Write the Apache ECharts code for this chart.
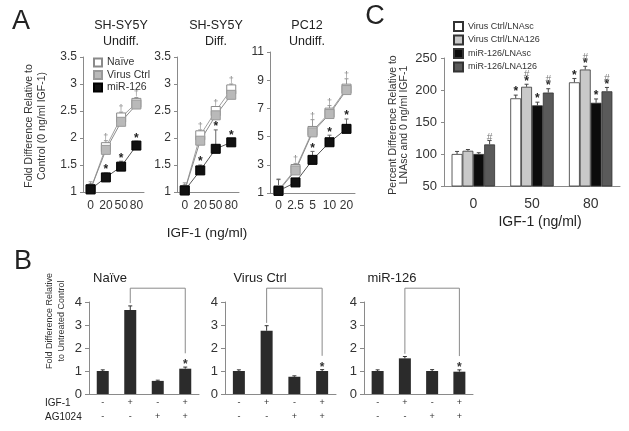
<!DOCTYPE html>
<html><head><meta charset="utf-8">
<script src="https://cdn.jsdelivr.net/npm/echarts@6/dist/echarts.min.js"></script>
<style>html,body{margin:0;padding:0;background:#fff}#c{width:629px;height:431px}</style>
</head><body><div id="c"></div>
<script>
const FONT = 'Arial, "Liberation Sans", Helvetica, sans-serif';

// ---------- Panel A data ----------
const aSeriesNames = ['Naïve', 'Virus Ctrl', 'miR-126'];
const a1Cats = ['0', '20', '50', '80'];
const a1Naive = [1.05, 1.83, 2.38, 2.65];
const a1Virus = [1.05, 1.78, 2.30, 2.62];
const a1Mir   = [1.05, 1.27, 1.47, 1.86];
const a1NaiveErr = [0.14, 0.12, 0.10, 0.10];
const a1MirErr   = [0.10, 0.08, 0.10, 0.08];
const a1NaiveMark = ['', '†', '†', '†'];
const a1MirMark   = ['', '*', '*', '*'];

const a2Cats = ['0', '20', '50', '80'];
const a2Naive = [1.03, 2.05, 2.50, 2.90];
const a2Virus = [1.03, 1.95, 2.42, 2.80];
const a2Mir   = [1.03, 1.40, 1.80, 1.92];
const a2NaiveErr = [0.14, 0.10, 0.08, 0.10];
const a2MirErr   = [0.10, 0.10, 0.35, 0.06];
const a2NaiveMark = ['', '†', '†', '†'];
const a2MirMark   = ['', '*', '*', '*'];

const a3Cats = ['0', '2.5', '5', '10', '20'];
const a3Naive = [1.20, 2.70, 5.40, 6.70, 8.40];
const a3Virus = [1.15, 2.60, 5.30, 6.60, 8.30];
const a3Mir   = [1.15, 1.75, 3.35, 4.60, 5.55];
const a3NaiveErr = [0.8, 0.4, 0.8, 0.5, 0.7];
const a3MirErr   = [0.8, 0.2, 0.6, 0.5, 0.7];
const a3NaiveMark = ['', '†', '†', '†', '†'];
const a3MirMark   = ['', '', '*', '*', '*'];
const a3Ticks = [1, 3, 5, 7, 9, 11];

// ---------- Panel C data ----------
const cCats = ['0', '50', '80'];
const cNames = ['Virus Ctrl/LNAsc', 'Virus Ctrl/LNA126', 'miR-126/LNAsc', 'miR-126/LNA126'];
const cVals = [
  [100, 187, 212],
  [105, 205, 232],
  [100, 176, 180],
  [115, 196, 198]
];
const cErrs = [
  [4, 5, 6],
  [2, 4, 5],
  [2, 5, 6],
  [6, 6, 6]
];
const cMarks = [
  ['', '*', '*'],
  ['', '#*', '#*'],
  ['', '*', '*'],
  ['#', '#*', '#*']
];

// ---------- Panel B data ----------
const bTitles = ['Naïve', 'Virus Ctrl', 'miR-126'];
const bCats = ['1', '2', '3', '4'];
const bIgf = ['-', '+', '-', '+'];
const bAg  = ['-', '-', '+', '+'];
const bVals = [
  [1.00, 3.65, 0.57, 1.10],
  [1.00, 2.75, 0.75, 1.00],
  [1.00, 1.55, 1.00, 0.97]
];
const bErrs = [
  [0.05, 0.18, 0.03, 0.07],
  [0.05, 0.22, 0.04, 0.06],
  [0.05, 0.08, 0.06, 0.08]
];
const bMarks = ['', '', '', '*'];
const bBracketTop = 4.6;

// ---------- helpers ----------
function errSeries(gi, vals, errs, marks, o) {
  return {
    type: 'custom', xAxisIndex: gi, yAxisIndex: gi, silent: true, z: o.z || 2,
    data: vals.map((v, i) => [i, v, errs[i]]),
    renderItem: function (params, api) {
      const i = params.dataIndex;
      const band = api.size([1, 0])[0];
      const off = (o.offset || 0) * band;
      const p0 = api.coord([api.value(0), api.value(1)]);
      const p1 = api.coord([api.value(0), api.value(1) + api.value(2)]);
      const x = p0[0] + off;
      const children = [
        { type: 'line', shape: { x1: x, y1: p0[1], x2: x, y2: p1[1] }, style: { stroke: o.color, lineWidth: 1 } },
        { type: 'line', shape: { x1: x - o.cap, y1: p1[1], x2: x + o.cap, y2: p1[1] }, style: { stroke: o.color, lineWidth: 1 } }
      ];
      const m = marks ? (marks[i] || '') : '';
      let y = p1[1] + (o.markShift || 0);
      for (let k = m.length - 1; k >= 0; k--) {
        const ch = m[k];
        const isHash = ch === '#';
        const size = isHash ? o.markSize * 0.85 : o.markSize;
        children.push({
          type: 'text', x: x, y: y,
          style: {
            text: ch, fontSize: size, fontFamily: FONT,
            fontWeight: ch === '*' ? 'bold' : 'normal',
            fill: isHash ? '#777' : (ch === '†' ? '#888' : o.markColor),
            textAlign: 'center', align: 'center',
            textVerticalAlign: 'bottom', verticalAlign: 'bottom'
          }
        });
        y -= size * (ch === '*' ? 0.55 : 0.8);
      }
      return { type: 'group', children: children };
    }
  };
}

function lineSeries(gi, name, data, line, fill, border) {
  return {
    type: 'line', name: name, xAxisIndex: gi, yAxisIndex: gi, data: data, silent: true,
    symbol: 'rect', symbolSize: 9, z: 4,
    lineStyle: { color: line, width: 1 },
    itemStyle: { color: fill, borderColor: border, borderWidth: 1 }
  };
}

function bracketSeries(gi, vals, errs) {
  return {
    type: 'custom', xAxisIndex: gi, yAxisIndex: gi, silent: true, z: 2,
    data: [[1, vals[1]]],
    renderItem: function (params, api) {
      const l = api.coord([1, vals[1] + errs[1] + 0.12]);
      const r = api.coord([3, vals[3] + errs[3] + 0.6]);
      const t = api.coord([1, bBracketTop])[1];
      return {
        type: 'polyline',
        shape: { points: [[l[0], l[1]], [l[0], t], [r[0], t], [r[0], r[1]]] },
        style: { stroke: '#8a8a8a', lineWidth: 1, fill: null }
      };
    }
  };
}

const axCol = '#8a8a8a';
function catX(gi, data, fs, margin, extra) {
  return Object.assign({
    type: 'category', gridIndex: gi, data: data, boundaryGap: true,
    axisLine: { lineStyle: { color: axCol } },
    axisTick: { length: 3, lineStyle: { color: axCol } },
    axisLabel: { fontSize: fs, color: '#333', margin: margin, fontFamily: FONT, interval: 0 },
    splitLine: { show: false }
  }, extra || {});
}
function valY(gi, min, max, interval, fs, margin, extra) {
  const ax = {
    type: 'value', gridIndex: gi, min: min, max: max,
    axisLine: { show: true, lineStyle: { color: axCol } },
    axisTick: { show: true, length: 3, lineStyle: { color: axCol } },
    axisLabel: { fontSize: fs, color: '#333', margin: margin, fontFamily: FONT },
    splitLine: { show: false }
  };
  if (interval) ax.interval = interval;
  return Object.assign(ax, extra || {});
}

function txt(x, y, text, size, o) {
  o = o || {};
  return {
    type: 'text', x: x, y: y, rotation: o.rot || 0, silent: true,
    style: {
      text: text, fontSize: size, fontFamily: FONT, fill: o.fill || '#222',
      textAlign: o.align || 'center', align: o.align || 'center',
      textVerticalAlign: 'middle', verticalAlign: 'middle',
      lineHeight: o.lh || Math.round(size * 1.2)
    }
  };
}

const grids = [
  { left: 83, top: 57, width: 61, height: 135 },   // A1
  { left: 177, top: 57, width: 62, height: 135 },  // A2
  { left: 270, top: 52, width: 85, height: 141 },  // A3
  { left: 444, top: 58, width: 176, height: 128 }, // C
  { left: 89, top: 302, width: 110, height: 92 },  // B1
  { left: 225, top: 302, width: 111, height: 92 }, // B2
  { left: 364, top: 302, width: 109, height: 92 }  // B3
];

const xAxes = [
  catX(0, a1Cats, 12, 8),
  catX(1, a2Cats, 12, 8),
  catX(2, a3Cats, 12, 7),
  catX(3, cCats, 14, 11, { axisTick: { length: 4, lineStyle: { color: axCol } } })
];
const yAxes = [
  valY(0, 1, 3.5, 0.5, 12, 6),
  valY(1, 1, 3.5, 0.5, 12, 6),
  valY(2, 1, 11, null, 12, 6, {
    axisLabel: { fontSize: 12, color: '#333', margin: 6, fontFamily: FONT, customValues: a3Ticks },
    axisTick: { show: true, length: 3, lineStyle: { color: axCol }, customValues: a3Ticks }
  }),
  valY(3, 50, 250, 50, 13, 7)
];
for (let k = 0; k < 3; k++) {
  xAxes.push(catX(4 + k, bCats, 9, 2, {
    axisTick: { length: 27, lineStyle: { color: axCol } },
    axisLabel: {
      fontSize: 9, color: '#333', margin: 2, fontFamily: FONT, interval: 0, lineHeight: 14,
      formatter: function (v, i) { return bIgf[i] + '\n' + bAg[i]; }
    }
  }));
  yAxes.push(valY(4 + k, 0, 4, 1, 13, 7, {
    axisTick: { show: true, length: 4, lineStyle: { color: axCol } }
  }));
}

const series = [];
// Panel A
const aSets = [
  [a1Naive, a1Virus, a1Mir, a1NaiveErr, a1MirErr, a1NaiveMark, a1MirMark],
  [a2Naive, a2Virus, a2Mir, a2NaiveErr, a2MirErr, a2NaiveMark, a2MirMark],
  [a3Naive, a3Virus, a3Mir, a3NaiveErr, a3MirErr, a3NaiveMark, a3MirMark]
];
aSets.forEach(function (s, gi) {
  series.push(errSeries(gi, s[0], s[3], s[5], { color: '#999', cap: 2, markSize: 9, markColor: '#777', z: 1, markShift: 1 }));
  series.push(errSeries(gi, s[2], s[4], s[6], { color: '#666', cap: 2, markSize: 12, markColor: '#222', z: 1, markShift: 3 }));
  series.push(lineSeries(gi, aSeriesNames[0], s[0], '#a0a0a0', '#ffffff', '#8a8a8a'));
  series.push(lineSeries(gi, aSeriesNames[1], s[1], '#8c8c8c', '#b9b9b9', '#999999'));
  series.push(lineSeries(gi, aSeriesNames[2], s[2], '#555555', '#111111', '#000000'));
});
// Panel C
const cColors = ['#ffffff', '#c9c9c9', '#0c0c0c', '#5a5a5a'];
const cBarFrac = (1 - 0.26) / 4;
cNames.forEach(function (n, i) {
  series.push({
    type: 'bar', name: n, xAxisIndex: 3, yAxisIndex: 3, data: cVals[i], silent: true,
    barGap: '0%', barCategoryGap: '26%',
    itemStyle: { color: cColors[i], borderColor: '#333', borderWidth: 0.8 }
  });
});
cNames.forEach(function (n, i) {
  series.push(errSeries(3, cVals[i], cErrs[i], cMarks[i], {
    color: '#444', cap: 2, markSize: 12, markColor: '#222', offset: (i - 1.5) * cBarFrac, z: 3, markShift: 3
  }));
});
// Panel B
for (let k = 0; k < 3; k++) {
  series.push({
    type: 'bar', xAxisIndex: 4 + k, yAxisIndex: 4 + k, data: bVals[k], silent: true,
    barWidth: 12, itemStyle: { color: '#2b2b2b' }
  });
  series.push(errSeries(4 + k, bVals[k], bErrs[k], bMarks, { color: '#333', cap: 2, markSize: 12, markColor: '#333', z: 3, markShift: 4 }));
  series.push(bracketSeries(4 + k, bVals[k], bErrs[k]));
}

const graphic = [
  txt(21, 22, 'A', 27),
  txt(375, 17, 'C', 27),
  txt(23, 262, 'B', 27),
  txt(121, 34, 'SH-SY5Y\nUndiff.', 12.5, { lh: 16 }),
  txt(216, 34, 'SH-SY5Y\nDiff.', 12.5, { lh: 16 }),
  txt(307, 34, 'PC12\nUndiff.', 12.5, { lh: 16 }),
  txt(36, 126, 'Fold Difference Relative to\nControl (0 ng/ml IGF-1)', 10.5, { rot: Math.PI / 2, lh: 13, fill: '#333' }),
  txt(207, 233, 'IGF-1 (ng/ml)', 13.5),
  txt(399, 125, 'Percent Difference Relative to\nLNAsc and 0 ng/ml IGF-1', 10.5, { rot: Math.PI / 2, lh: 11, fill: '#333' }),
  txt(540, 222, 'IGF-1 (ng/ml)', 14),
  txt(110, 278, bTitles[0], 13),
  txt(260, 278, bTitles[1], 13),
  txt(392, 278, bTitles[2], 13),
  txt(56, 321, 'Fold Difference Relative\nto Untreated Control', 9, { rot: Math.PI / 2, lh: 12, fill: '#333' }),
  txt(45, 403, 'IGF-1', 10, { align: 'left' }),
  txt(45, 417, 'AG1024', 10, { align: 'left' })
];

const chart = echarts.init(document.getElementById('c'), null, { renderer: 'canvas' });
chart.setOption({
  animation: false,
  backgroundColor: '#ffffff',
  textStyle: { fontFamily: FONT },
  grid: grids,
  xAxis: xAxes,
  yAxis: yAxes,
  legend: [
    {
      left: 88, top: 52, orient: 'vertical', icon: 'rect', itemWidth: 8, itemHeight: 8, itemGap: 1.5,
      selectedMode: false, data: aSeriesNames,
      textStyle: { fontSize: 10.5, fontFamily: FONT, color: '#333' }
    },
    {
      left: 448, top: 16, orient: 'vertical', icon: 'rect', itemWidth: 9, itemHeight: 9, itemGap: 2.5,
      selectedMode: false, data: cNames,
      textStyle: { fontSize: 9, fontFamily: FONT, color: '#333' }
    }
  ],
  series: series,
  graphic: graphic
});
</script>
</body></html>
